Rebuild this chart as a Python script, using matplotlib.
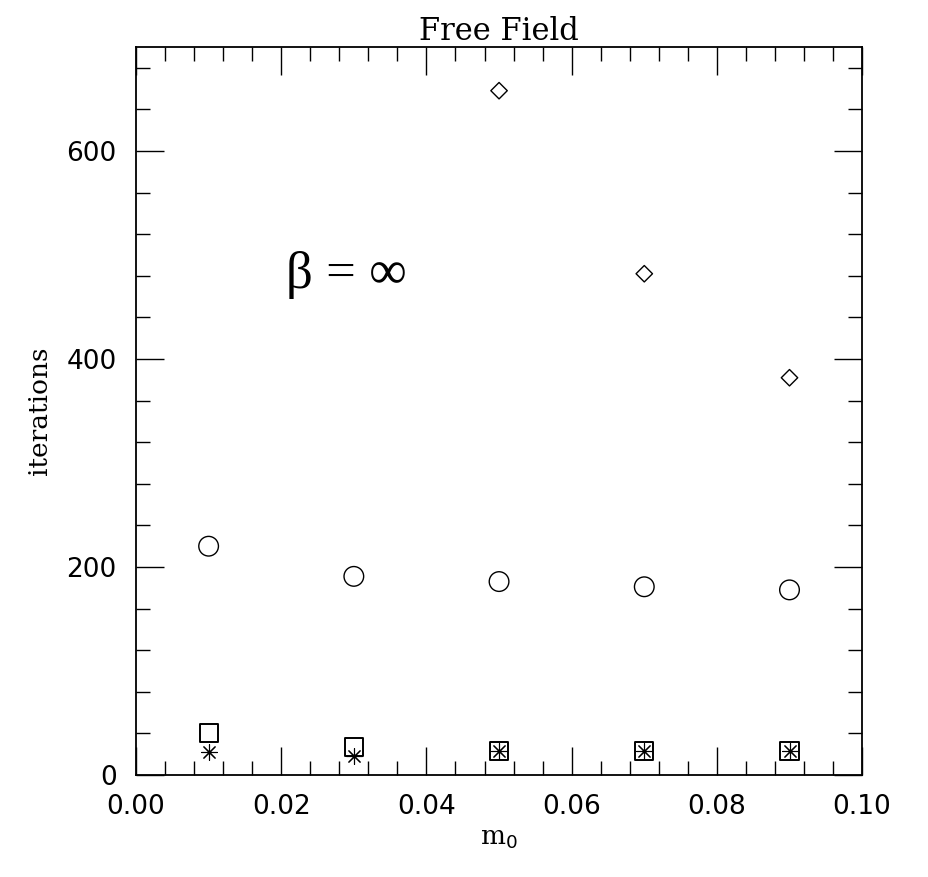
import matplotlib
matplotlib.use("Agg")
import matplotlib.pyplot as plt
from matplotlib.ticker import MultipleLocator

# data
m0 = [0.01, 0.03, 0.05, 0.07, 0.09]
diamond_x = [0.05, 0.07, 0.09]
diamond_y = [658, 482, 382]
circle_y = [220, 191, 186, 181, 178]
square_y = [40, 27, 23, 23, 23]
star_y = [22, 18, 23, 23, 23]

fig = plt.figure(figsize=(9.29, 8.77), dpi=100)
ax = fig.add_axes([0.1464, 0.1163, 0.7816, 0.8301])

ax.scatter(diamond_x, diamond_y, marker="D", s=70, facecolors="none",
           edgecolors="black", linewidths=1.0)
ax.scatter(m0, circle_y, marker="o", s=200, facecolors="none",
           edgecolors="black", linewidths=1.0)
ax.scatter(m0, square_y, marker="s", s=170, facecolors="none",
           edgecolors="black", linewidths=1.4)
ax.scatter(m0, star_y, marker=(8, 2, 0), s=130, color="black", linewidths=0.8)

ax.set_xlim(0, 0.1)
ax.set_ylim(0, 700)
ax.xaxis.set_major_locator(MultipleLocator(0.02))
ax.xaxis.set_minor_locator(MultipleLocator(0.004))
ax.yaxis.set_major_locator(MultipleLocator(200))
ax.yaxis.set_minor_locator(MultipleLocator(40))
ax.set_xticks([0.0, 0.02, 0.04, 0.06, 0.08, 0.10])
ax.set_xticklabels(["0.00", "0.02", "0.04", "0.06", "0.08", "0.10"])
ax.tick_params(which="both", direction="in", top=True, right=True,
               labelsize=19, pad=14)
ax.tick_params(which="major", length=20, width=1.0)
ax.tick_params(which="minor", length=10, width=1.0)
for lbl in ax.get_xticklabels() + ax.get_yticklabels():
    lbl.set_family("DejaVu Sans")
for sp in ax.spines.values():
    sp.set_linewidth(1.3)

ax.set_xlabel("m$_0$", fontsize=19, family="DejaVu Serif", labelpad=4)
ax.set_ylabel("iterations", fontsize=19, family="DejaVu Serif", labelpad=10)
ax.set_title("Free Field", fontsize=22, family="DejaVu Serif", pad=4)

ax.text(0.0207, 481, "\u03b2 = \u221e", fontsize=38, family="Liberation Serif",
        va="center", ha="left")

plt.savefig("out.png", dpi=100)
